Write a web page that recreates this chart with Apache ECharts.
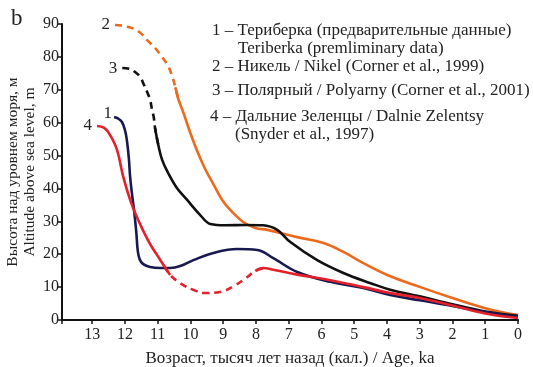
<!DOCTYPE html>
<html>
<head>
<meta charset="utf-8">
<script src="https://cdn.jsdelivr.net/npm/echarts@6/dist/echarts.min.js"></script>
<style>
	html, body { margin: 0; padding: 0; background: #fff; }
	#chart_altitude { width: 533px; height: 367px; }
</style>
</head>
<body>
<div id="chart_altitude"></div>
<script>
	// x = возраст, тыс. лет (кал.), y = высота, м
	var xTicks = [0, 1, 2, 3, 4, 5, 6, 7, 8, 9, 10, 11, 12, 13]
	var yTicks = [0, 10, 20, 30, 40, 50, 60, 70, 80, 90]

	// 1 - Териберка
	var teriberka = [[12.33, 61.7], [12.2, 61.2], [12.09, 60.2], [12.0, 57.8], [11.94, 54.7], [11.88, 49.2], [11.84, 43.5], [11.78, 38], [11.72, 33.4], [11.65, 26.4], [11.61, 21.3], [11.55, 18.5], [11.44, 17.0], [11.23, 16.1], [10.92, 15.8], [10.62, 15.8], [10.31, 16.4], [9.91, 18.2], [9.3, 20.4], [8.57, 21.6], [7.96, 21.3], [7.47, 18.8], [6.74, 14.6], [5.73, 11.6], [4.72, 9.7], [3.9, 7.6], [3, 6], [2, 4.3], [1, 2.4], [0, 1]]

	// 2 - Никель
	var nikelDash = [[12.3, 89.7], [11.93, 89.2], [11.59, 87.8], [11.32, 85.1], [11.08, 82.7], [10.86, 79.9], [10.68, 77.2], [10.56, 74.2], [10.46, 70.8]]
	var nikel = [[10.46, 70.8], [10.37, 67.2], [10.22, 63.2], [10.01, 57.1], [9.79, 51.3], [9.55, 45.9], [9.3, 41.3], [9.03, 36.5], [8.72, 32.8], [8.39, 29.8], [8.02, 28.0], [7.65, 27.4], [6.74, 25.2], [5.94, 23.4], [5.33, 20.7], [4.72, 17.3], [3.99, 13.7], [2.98, 10.0], [2, 6.7], [1, 3.6], [0, 1.5]]

	// 3 - Полярный
	var polyarnyDash = [[12.08, 76.6], [11.84, 76.3], [11.69, 75.4], [11.53, 73.9], [11.44, 72.0], [11.32, 69.3], [11.23, 66.9], [11.17, 63.8], [11.12, 61.7], [11.08, 58.4]]
	var polyarny = [[11.08, 58.4], [10.98, 53.2], [10.86, 48.6], [10.68, 44.7], [10.43, 40.4], [10.1, 36.5], [9.7, 31.9], [9.39, 29.2], [8.94, 28.8], [8.3, 28.9], [7.78, 28.8], [7.35, 27.4], [6.95, 23.7], [6.13, 18.2], [5.33, 14.3], [4.5, 11.2], [3.9, 9.2], [3, 7.2], [2, 4.8], [1, 2.6], [0, 1.3]]

	// 4 - Дальние Зеленцы
	var zelentsy1 = [[12.85, 59], [12.63, 58.4], [12.45, 56.2], [12.24, 51.7], [12.05, 43.5], [11.84, 36.5], [11.66, 31.9], [11.44, 27.1], [11.23, 23.1], [11.02, 19.8], [10.8, 16.4], [10.62, 13.7]]
	var zelentsyDash = [[10.62, 13.7], [10.31, 11.2], [9.9, 9.1], [9.55, 8.2], [9.09, 8.5], [8.63, 10.6], [8.3, 12.8], [8.02, 14.9]]
	var zelentsy2 = [[8.02, 14.9], [7.78, 15.8], [7.47, 15.3], [6.74, 13.8], [5.73, 12.1], [4.72, 10], [3.9, 8.2], [3, 6.7], [2, 4.4], [1, 2], [0, 0.6]]

	var legendLines = [
		'1 – Териберка (предварительные данные)',
		'Teriberka (premliminary data)',
		'2 – Никель / Nikel (Corner et al., 1999)',
		'3 – Полярный / Polyarny (Corner et al., 2001)',
		'4 – Дальние Зеленцы / Dalnie Zelentsy',
		'(Snyder et al., 1997)'
	]

	var FONT = '"Liberation Serif", "Times New Roman", serif'
	var cOrange = '#ec6a1e'
	var cBlack = '#111111'
	var cNavy = '#1a1850'
	var cRed = '#e2212b'

	function line(name, data, color, dashed, tag, tagOffset) {
		var s = {
			name: name,
			type: 'line',
			data: data,
			smooth: 0.4,
			symbol: 'none',
			lineStyle: {
				color: color,
				width: 2.6,
				type: dashed ? [7, 5] : 'solid'
			},
			z: dashed ? 2 : 3
		}
		if (tag) {
			//номер кривой у первой точки
			s.markPoint = {
				symbol: 'circle',
				symbolSize: 0,
				data: [{ coord: data[0] }],
				label: {
					show: true,
					position: 'left',
					distance: 5,
					offset: tagOffset || [0, 0],
					formatter: tag,
					color: '#222',
					fontSize: 17,
					fontFamily: FONT
				}
			}
		}
		return s
	}

	// пунктир чуть заходит в сплошные участки, чтобы стык был гладким
	var nikelDashExt = nikelDash.concat([nikel[1]])
	var polyarnyDashExt = polyarnyDash.concat([polyarny[1]])
	var zelentsyDashExt = [zelentsy1[zelentsy1.length - 2]].concat(zelentsyDash, [zelentsy2[1]])

	var chart = echarts.init(document.getElementById('chart_altitude'))

	var legendY = [31, 49, 67, 91, 117, 135]
	var legendX = [212, 238, 212, 212, 210, 235]
	var graphics = [{
		type: 'text',
		left: 11,
		top: 7,
		style: { text: 'b', font: '23px ' + FONT, fill: '#222' }
	}]
	legendLines.forEach(function (t, i) {
		graphics.push({
			type: 'text',
			x: legendX[i],
			y: legendY[i],
			style: { text: t, font: '17px ' + FONT, fill: '#222', textVerticalAlign: 'middle' }
		})
	})

	var option = {
		animation: false,
		grid: {
			left: 62,
			right: 15,
			top: 24,
			bottom: 47,
			containLabel: false,
			outerBoundsMode: 'none'
		},
		xAxis: {
			type: 'value',
			inverse: true,
			min: 0,
			max: 13.92,
			interval: 1,
			name: 'Возраст, тысяч лет назад (кал.) / Age, ka',
			nameLocation: 'middle',
			nameGap: 30,
			nameTextStyle: { color: '#222', fontSize: 17, fontFamily: FONT },
			axisLine: { onZero: false, lineStyle: { color: '#111', width: 2 } },
			axisTick: { show: true, length: 4, lineStyle: { color: '#111', width: 1.5 } },
			axisLabel: {
				color: '#222',
				fontSize: 16,
				fontFamily: FONT,
				margin: 7,
				formatter: function (v) {
					return xTicks.indexOf(v) > -1 ? String(v) : ''
				}
			},
			splitLine: { show: false }
		},
		yAxis: {
			type: 'value',
			position: 'left',
			min: 0,
			max: 90,
			interval: 10,
			name: 'Высота над уровнем моря, м\nAltitude above sea level, m',
			nameLocation: 'middle',
			nameRotate: 90,
			nameGap: 24,
			nameMoveOverlap: false,
			nameTextStyle: { color: '#222', fontSize: 15.5, fontFamily: FONT, lineHeight: 17 },
			axisLine: { show: true, onZero: false, lineStyle: { color: '#111', width: 2 } },
			axisTick: { show: true, length: 5, lineStyle: { color: '#111', width: 1.5 } },
			axisLabel: {
				color: '#222',
				fontSize: 16,
				fontFamily: FONT,
				margin: 3,
				formatter: function (v) {
					return yTicks.indexOf(v) > -1 ? String(v) : ''
				}
			},
			splitLine: { show: false }
		},
		graphic: graphics,
		series: [
			line('2d', nikelDashExt, cOrange, true, '2'),
			line('2', nikel, cOrange, false),
			line('3d', polyarnyDashExt, cBlack, true, '3'),
			line('3', polyarny, cBlack, false),
			line('1', teriberka, cNavy, false, '1', [3, -4]),
			line('4a', zelentsy1, cRed, false, '4'),
			line('4d', zelentsyDashExt, cRed, true),
			line('4b', zelentsy2, cRed, false)
		]
	}
	chart.setOption(option)
</script>
</body>
</html>
